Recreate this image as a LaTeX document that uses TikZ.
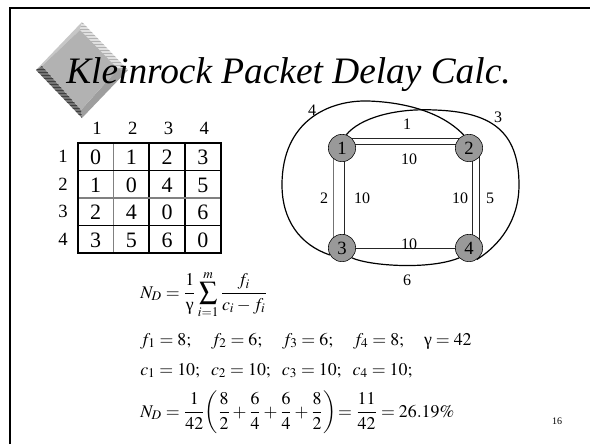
\documentclass[tikz,border=0pt]{standalone}
\usepackage{amsmath}
\usepackage{mathptmx}
\usepackage[no-math]{fontspec}
\setmainfont{Liberation Serif}
\usetikzlibrary{backgrounds}

\begin{document}
\begin{tikzpicture}[
    x=0.75pt, y=-0.75pt,
    router/.style={circle, draw, fill=black!40, minimum size=20.5pt, inner sep=0pt, font=\fontsize{14}{15}\selectfont},
    cell/.style={font=\fontsize{16.5}{18}\selectfont, inner sep=0pt},
    hdr/.style={font=\fontsize{14}{15}\selectfont, inner sep=0pt},
    elabel/.style={font=\fontsize{12}{13}\selectfont, inner sep=0pt},
    link/.style={black!85, line width=0.75pt},
    route/.style={line width=0.9pt},
    formula/.style={anchor=base west, inner sep=0pt, font=\fontsize{13.4}{16}\selectfont}
]
    \useasboundingbox (0,0) rectangle (590,444);

    % Marc
    \draw[line width=1.9pt] (10,444) -- (10,8) -- (590,8);

    % Rombe
    \fill[black!22] (36,70) -- (82,22) -- (80,30) -- (42,66) -- cycle;
    \fill[black!12] (82,22) -- (128,70) -- (118,69) -- (80,30) -- cycle;
    \fill[black!38] (128,70) -- (82,118) -- (81,110) -- (118,69) -- cycle;
    \fill[black!55] (82,118) -- (36,70) -- (42,66) -- (81,110) -- cycle;
    \fill[black!30] (80,30) -- (118,69) -- (81,110) -- (42,66) -- cycle;
    \begin{scope}
        \clip (82,22) -- (128,70) -- (118,69) -- (80,30) -- cycle;
        \foreach \yy in {23,26,...,71}
            \draw[black!30, line width=0.5pt] (70,\yy) -- (130,\yy);
    \end{scope}
    \begin{scope}
        \clip (82,118) -- (36,70) -- (42,66) -- (81,110) -- cycle;
        \foreach \yy in {66,69,...,118}
            \draw[black!75, line width=0.5pt] (30,\yy) -- (90,\yy);
    \end{scope}

    % Titol
    \node[anchor=base west, inner sep=0pt, font=\fontsize{28}{30}\selectfont\itshape] (title) at (66,83) {Kleinrock Packet Delay Calc.};

    % Matriu de trafic
    \foreach \c in {1,...,4}
        \node[hdr] (h\c) at (97+35.75*\c-35.75, 128) {\c};
    \foreach \r/\vals in {1/{0,1,2,3}, 2/{1,0,4,5}, 3/{2,4,0,6}, 4/{3,5,6,0}} {
        \node[hdr] (r\r) at (63, 156.75+27.5*\r-27.5) {\r};
        \foreach \v [count=\c] in \vals
            \node[cell] (m\r\c) at (95.6+35.75*\c-35.75, 157.5+27.5*\r-27.5) {\v};
    }
    \draw[line width=0.8pt] (149,143) -- (149,253);
    \draw[line width=0.8pt] (185,143) -- (185,253);
    \draw[black!50, line width=0.8pt] (113.5,143) -- (113.5,253);
    \draw[line width=0.8pt] (77.7,170.5) -- (220.7,170.5);
    \draw[black!50, line width=0.8pt] (77.7,198) -- (220.7,198);
    \draw[line width=0.8pt] (77.7,225.5) -- (220.7,225.5);
    \draw[line width=1.5pt] (77.7,143) rectangle (220.7,253);

    % Xarxa
    \node[router] (n1) at (342,148) {1};
    \node[router] (n2) at (469,148) {2};
    \node[router] (n3) at (342,248) {3};
    \node[router] (n4) at (469,248) {4};
    \begin{pgfonlayer}{background}
        \draw[link] ([yshift=7.5pt]n1.center) -- ([yshift=7.5pt]n2.center);
        \draw[link] ([yshift=3pt]n1.center) -- ([yshift=3pt]n2.center);
        \draw[link, black!55] ([xshift=-6.75pt]n1.center) -- ([xshift=-6.75pt]n3.center);
        \draw[link] ([xshift=1.5pt]n1.center) -- ([xshift=1.5pt]n3.center);
        \draw[link] ([xshift=2.25pt]n2.center) -- ([xshift=2.25pt]n4.center);
        \draw[link] ([xshift=7.5pt]n2.center) -- ([xshift=7.5pt]n4.center);
        \draw[link] (n3.center) -- (n4.center);
    \end{pgfonlayer}

    % Rutes
    \draw[route] (n1.72) .. controls (360,118) and (395,108) .. (435,110)
        .. controls (490,112) and (519,130) .. (519,185)
        .. controls (519,220) and (500,245) .. (n4.-56);
    \draw[route] (n3.-150) .. controls (300,245) and (282,220) .. (282,185)
        .. controls (282,120) and (330,100) .. (368,101)
        .. controls (400,102) and (440,110) .. (n2.112);
    \draw[route] (n3.-45) .. controls (370,266) and (430,270) .. (n4.-135);

    % Etiquetes
    \node[elabel] (l12) at (407,124) {1};
    \node[elabel] (c12) at (409,159) {10};
    \node[elabel] (l13) at (324,198) {2};
    \node[elabel] (c13) at (362,198) {10};
    \node[elabel] (c24) at (460,198) {10};
    \node[elabel] (l24) at (490,198) {5};
    \node[elabel] (c34) at (409,244) {10};
    \node[elabel] (l34) at (407,280) {6};
    \node[elabel] (l23) at (312,110) {4};
    \node[elabel] (l14) at (498,117) {3};

    % Formules
    \node[formula] (eq1) at (140,298) {$N_D=\dfrac{1}{\mbox{γ}}\displaystyle\sum_{i=1}^{m}\dfrac{f_i}{c_i-f_i}$};
    \node[formula] (eq2) at (140,345) {$f_1=8;\quad f_2=6;\quad f_3=6;\quad f_4=8;\quad \mbox{γ}=42$};
    \node[formula] (eq3) at (140,375) {$c_1=10;\enspace c_2=10;\enspace c_3=10;\enspace c_4=10;$};
    \node[formula] (eq4) at (140,417) {$N_D=\dfrac{1}{42}\!\left(\dfrac{8}{2}+\dfrac{6}{4}+\dfrac{6}{4}+\dfrac{8}{2}\right)\!=\dfrac{11}{42}=26.19\%$};

    \node[font=\fontsize{7.5}{9}\selectfont] (pg) at (557,421) {16};
\end{tikzpicture}
\end{document}
